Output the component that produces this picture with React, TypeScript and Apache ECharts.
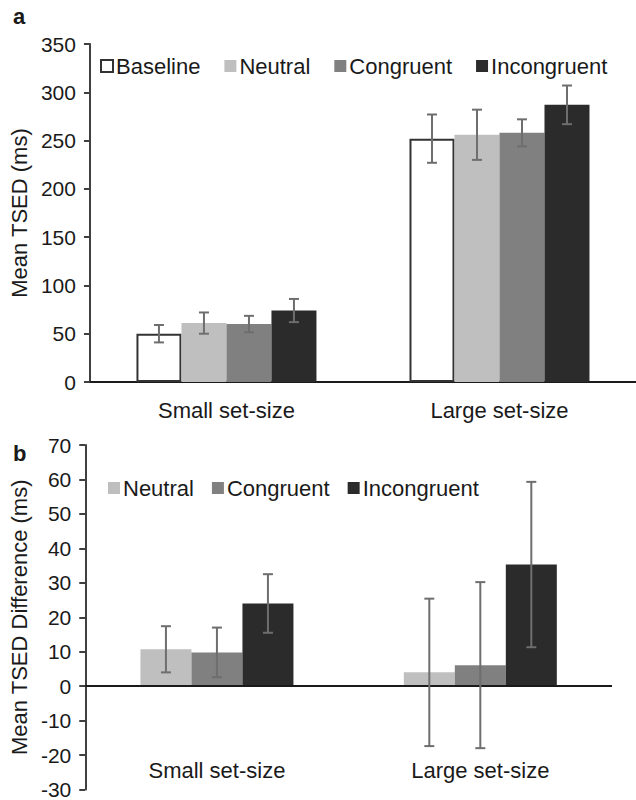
import React, { useEffect, useRef } from "react";
import * as echarts from "echarts";

const categories = ["Small set-size", "Large set-size"];

// Panel a: Mean TSED (ms)
const seriesNamesA = ["Baseline", "Neutral", "Congruent", "Incongruent"];
const meansA = [
  [50, 252],
  [61, 256],
  [60, 258],
  [74, 287],
];
const errorsA = [
  [9, 25],
  [11, 26],
  [8.5, 14],
  [12, 20],
];

// Panel b: Mean TSED Difference (ms)
const seriesNamesB = ["Neutral", "Congruent", "Incongruent"];
const meansB = [
  [10.7, 4.0],
  [9.8, 6.1],
  [24.0, 35.3],
];
const errorsB = [
  [6.7, 21.4],
  [7.2, 24.1],
  [8.5, 24.0],
];

const yTicksA = { min: 0, max: 350, interval: 50 };
const yTicksB = { min: -30, max: 70, interval: 10 };

const colors: Record<string, string> = {
  Baseline: "#ffffff",
  Neutral: "#bfbfbf",
  Congruent: "#808080",
  Incongruent: "#2b2b2b",
};

const FONT = "'Liberation Sans', Arial, sans-serif";
const TEXT = "#1a1a1a";
const AXIS = "#404040";

const BAR_A = 45;
const BAR_B = 51;

function errorSeries(
  names: string[],
  means: number[][],
  errs: number[][],
  barW: number,
  axisIdx: number
) {
  return names.map((name, si) => ({
    type: "custom",
    name: name + "-err",
    xAxisIndex: axisIdx,
    yAxisIndex: axisIdx,
    z: 10,
    silent: true,
    encode: { x: 0, y: 1 },
    data: categories.map((_, ci) => [ci, means[si][ci], errs[si][ci]]),
    renderItem: (params: any, api: any) => {
      const ci = api.value(0);
      const v = api.value(1);
      const e = api.value(2);
      const c = api.coord([ci, v]);
      const x = c[0] + (si - (names.length - 1) / 2) * barW;
      const yt = api.coord([ci, v + e])[1];
      const yb = api.coord([ci, v - e])[1];
      const style = { stroke: "#6e6e6e", lineWidth: 2 };
      const cap = 5;
      return {
        type: "group",
        children: [
          { type: "line", shape: { x1: x, y1: yt, x2: x, y2: yb }, style },
          { type: "line", shape: { x1: x - cap, y1: yt, x2: x + cap, y2: yt }, style },
          { type: "line", shape: { x1: x - cap, y1: yb, x2: x + cap, y2: yb }, style },
        ],
      };
    },
  }));
}

export default function App() {
  const ref = useRef<HTMLDivElement>(null);
  useEffect(() => {
    if (!ref.current) return;
    const chart = echarts.init(ref.current, undefined, { renderer: "svg" });

    const tickLabel = { color: TEXT, fontSize: 21, fontFamily: FONT };
    const catLabel = { color: TEXT, fontSize: 22, fontFamily: FONT };
    const legendText = { color: TEXT, fontSize: 22, fontFamily: FONT, padding: [0, 0, 0, -2] };

    const barsA = seriesNamesA.map((name, si) => ({
      type: "bar",
      name,
      xAxisIndex: 0,
      yAxisIndex: 0,
      barWidth: BAR_A,
      barGap: "0%",
      itemStyle: {
        color: colors[name],
        borderColor: name === "Baseline" ? "#333333" : colors[name],
        borderWidth: name === "Baseline" ? 2 : 0,
      },
      data: meansA[si],
    }));

    const barsB = seriesNamesB.map((name, si) => ({
      type: "bar",
      name,
      xAxisIndex: 1,
      yAxisIndex: 1,
      barWidth: BAR_B,
      barGap: "0%",
      itemStyle: { color: colors[name] },
      data: meansB[si],
      markLine:
        si === 0
          ? {
              silent: true,
              symbol: "none",
              label: { show: false },
              lineStyle: { color: "#1a1a1a", width: 2, type: "solid" },
              data: [{ yAxis: 0 }],
            }
          : undefined,
    }));

    chart.setOption({
      animation: false,
      backgroundColor: "#ffffff",
      textStyle: { fontFamily: FONT },
      title: [
        { text: "a", left: 8, top: 0, textStyle: { fontSize: 22, fontWeight: "bold", color: TEXT, fontFamily: FONT } },
        { text: "b", left: 8, top: 437, textStyle: { fontSize: 22, fontWeight: "bold", color: TEXT, fontFamily: FONT } },
      ],
      legend: [
        {
          data: seriesNamesA,
          left: 95,
          top: 50,
          icon: "rect",
          itemWidth: 12,
          itemHeight: 12,
          itemGap: 24,
          textStyle: legendText,
        },
        {
          data: seriesNamesB,
          left: 103,
          top: 472,
          icon: "rect",
          itemWidth: 12,
          itemHeight: 12,
          itemGap: 18,
          textStyle: legendText,
        },
      ],
      grid: [
        { left: 85, top: 44, width: 558, height: 338 },
        { left: 85, top: 445, width: 527, height: 348 },
      ],
      xAxis: [
        {
          type: "category",
          gridIndex: 0,
          data: categories,
          axisLine: { lineStyle: { color: "#1a1a1a", width: 2 } },
          axisTick: { show: false },
          axisLabel: { ...catLabel, margin: 17 },
        },
        {
          type: "category",
          gridIndex: 1,
          data: categories,
          axisLine: { show: false, onZero: false },
          axisTick: { show: false },
          axisLabel: { ...catLabel, margin: -30 },
        },
      ],
      yAxis: [
        {
          type: "value",
          gridIndex: 0,
          ...yTicksA,
          name: "Mean TSED (ms)",
          nameLocation: "middle",
          nameGap: 53,
          nameTextStyle: { color: TEXT, fontSize: 22, fontFamily: FONT },
          axisLine: { show: true, lineStyle: { color: AXIS, width: 2 } },
          axisTick: { show: true, length: 6, lineStyle: { color: AXIS, width: 2 } },
          splitLine: { show: false },
          axisLabel: { ...tickLabel, margin: 14 },
        },
        {
          type: "value",
          gridIndex: 1,
          ...yTicksB,
          name: "Mean TSED Difference (ms)",
          nameLocation: "middle",
          nameGap: 53,
          nameTextStyle: { color: TEXT, fontSize: 22, fontFamily: FONT },
          axisLine: { show: true, lineStyle: { color: AXIS, width: 2 } },
          axisTick: { show: true, length: 6, lineStyle: { color: AXIS, width: 2 } },
          splitLine: { show: false },
          axisLabel: { ...tickLabel, margin: 14 },
        },
      ],
      series: [
        ...barsA,
        ...barsB,
        ...errorSeries(seriesNamesA, meansA, errorsA, BAR_A, 0),
        ...errorSeries(seriesNamesB, meansB, errorsB, BAR_B, 1),
      ],
    });
    return () => chart.dispose();
  }, []);

  return (
    <div
      ref={ref}
      style={{ position: "absolute", left: 0, top: 0, width: 636, height: 800 }}
    />
  );
}
